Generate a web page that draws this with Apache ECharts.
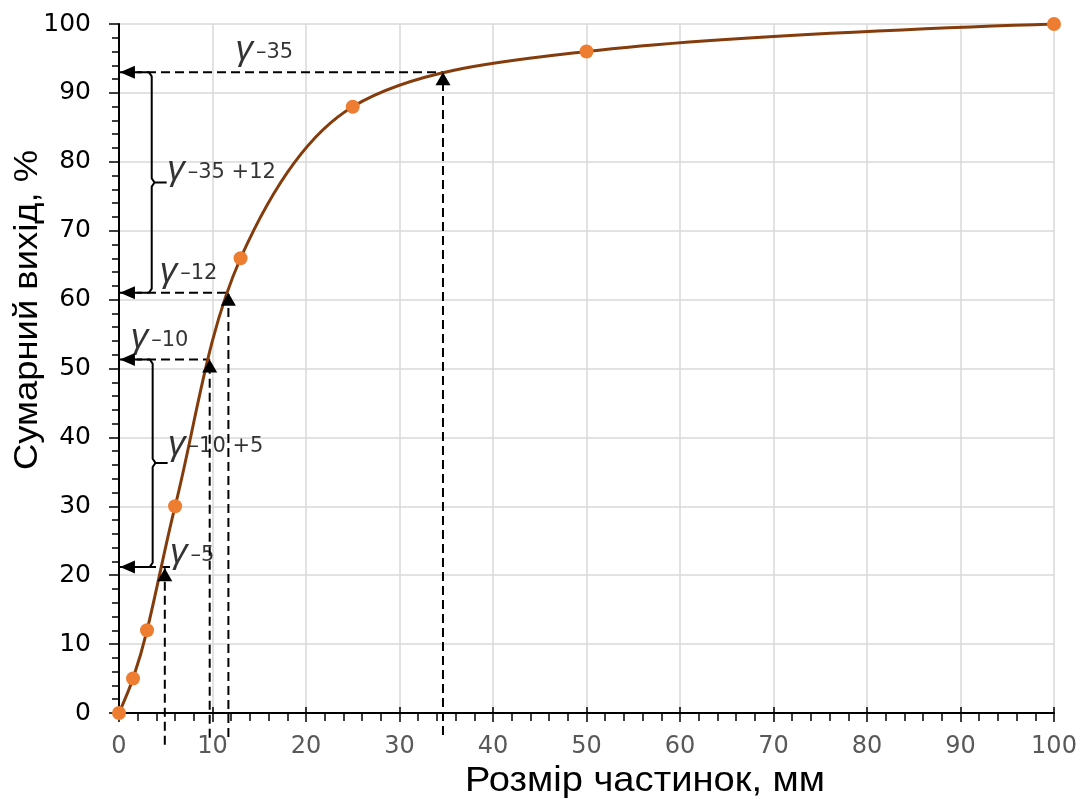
<!DOCTYPE html>
<html><head><meta charset="utf-8">
<script src="https://cdn.jsdelivr.net/npm/echarts@6/dist/echarts.min.js"></script>
<style>html,body{margin:0;padding:0;background:#fff}#c{width:1083px;height:799px}</style>
</head><body><div id="c"></div>
<script>
// ---- data ----
const sizes = [0, 1.5, 3, 6, 13, 25, 50, 100];          // Розмір частинок, мм
const cumYield = [0, 5, 12, 30, 66, 88, 96, 100];        // Сумарний вихід, %
const xAxisRange = [0, 100];
const yAxisRange = [0, 100];
const axisStep = 10;

// reading guides (data units)
const guideX = [4.9, 9.7, 11.7, 34.65];        // vertical guides
const guideTipY = [21.0, 51.3, 61, 93];        // tip of upward arrows
const guideLevelY = [21.2, 51.3, 61, 93];      // horizontal guides
const guideBottomY = [-4.6, -3.6, -3.5, -3.2]; // vertical guides start below axis
const guideRightX = [6.0, 9.7, 11.7, 34.65];   // right end of horizontal guides
const arrowLeftX = 0.1;

// curly braces
const braceUpper = [[1.9,93],[3.2,93],[3.5,92.4],[3.5,77.6],[3.8,77],[5.1,77],[3.8,77],[3.5,76.4],[3.5,61.6],[3.2,61],[1.9,61]];
const braceLower = [[1.9,51.3],[3.3,51.3],[3.6,50.7],[3.6,36.9],[3.9,36.3],[5.2,36.3],[3.9,36.3],[3.6,35.7],[3.6,21.8],[3.3,21.2],[1.9,21.2]];

// gamma labels
const labelSubs = ['–35', '–35 +12', '–12', '–10', '–10 +5', '–5'];
const labelX = [12.4, 5.1, 4.3, 1.2, 5.2, 5.4];
const labelY = [96.2, 78.8, 64.0, 54.4, 38.9, 23.2];

const xTitle = 'Розмір частинок, мм';
const yTitle = 'Сумарний вихід, %';

// ---- chart ----
const FONT = "'Liberation Sans', Arial, sans-serif";
const WIDE = "'DejaVu Sans', sans-serif";
const chart = echarts.init(document.getElementById('c'));
const dash = {color:'#000', width:2, type:[9,5]};
const series = [];
guideX.forEach((x,i)=>{
  series.push({type:'line', data:[[x,guideBottomY[i]],[x,guideTipY[i]]], symbol:'none', clip:false,
    lineStyle:dash, silent:true, z:2});
  series.push({type:'line', data:[[0,guideLevelY[i]],[guideRightX[i],guideLevelY[i]]], symbol:'none', clip:false,
    lineStyle:dash, silent:true, z:2});
});
series.push({type:'line', data:braceUpper, symbol:'none', lineStyle:{color:'#000',width:2}, clip:false, z:3});
series.push({type:'line', data:braceLower, symbol:'none', lineStyle:{color:'#000',width:2}, clip:false, z:3});
series.push({type:'line', data:sizes.map((x,i)=>[x,cumYield[i]]), smooth:0.33,
  lineStyle:{color:'#843C0C', width:3}, symbol:'circle', symbolSize:14, showSymbol:true,
  itemStyle:{color:'#ED7D31'}, z:5});
series.push({type:'scatter', data:guideX.map((x,i)=>[x,guideTipY[i]]), symbol:'triangle',
  symbolSize:[15,13], symbolOffset:[0,6.5], itemStyle:{color:'#000', opacity:1}, clip:false, z:6});
series.push({type:'scatter', data:guideLevelY.map(y=>[arrowLeftX,y]), symbol:'triangle',
  symbolSize:[13,15], symbolRotate:90, symbolOffset:[7.5,0], itemStyle:{color:'#000', opacity:1}, clip:false, z:6});
series.push({type:'scatter', data:labelX.map((x,i)=>[x,labelY[i]]), symbolSize:1,
  itemStyle:{color:'rgba(0,0,0,0)'}, clip:false, z:7,
  label:{show:true, position:'right', distance:0,
    formatter:(p)=>'{g|γ}{s|'+labelSubs[p.dataIndex]+'}',
    rich:{g:{fontFamily:FONT, fontStyle:'italic', fontSize:35, color:'#000', verticalAlign:'bottom'},
          s:{fontFamily:WIDE, fontSize:21, color:'#000', verticalAlign:'bottom', padding:[0,0,5,3]}}}});

chart.setOption({
  animation:false,
  backgroundColor:'#fff',
  grid:{left:119, right:29, top:24, bottom:86, containLabel:false, outerBoundsMode:'none'},
  xAxis:[{type:'value', min:xAxisRange[0], max:xAxisRange[1], interval:axisStep,
    axisLine:{show:true, lineStyle:{color:'#000', width:2}},
    axisTick:{show:true, length:9, lineStyle:{color:'#000', width:1.5}},
    minorTick:{show:true, splitNumber:5, length:8, lineStyle:{color:'#000', width:1.5}},
    splitLine:{show:true, lineStyle:{color:'#d9d9d9', width:1.5}},
    axisLabel:{color:'#595959', fontSize:24, fontFamily:WIDE, margin:22}},
   {type:'value', position:'bottom', min:xAxisRange[0], max:xAxisRange[1], interval:axisStep,
    axisLine:{show:false}, axisLabel:{show:false}, splitLine:{show:false},
    axisTick:{show:true, inside:true, length:6, lineStyle:{color:'#000', width:1.5}}}],
  yAxis:{type:'value', min:yAxisRange[0], max:yAxisRange[1], interval:axisStep,
    axisLine:{show:true, lineStyle:{color:'#000', width:2}},
    axisTick:{show:true, length:10, lineStyle:{color:'#000', width:1.5}},
    minorTick:{show:true, splitNumber:5, length:7, lineStyle:{color:'#000', width:1.5}},
    splitLine:{show:true, lineStyle:{color:'#d9d9d9', width:1.5}},
    axisLabel:{color:'#000', fontSize:25, fontFamily:WIDE, margin:28}},
  series:series,
  graphic:[
    {type:'text', x:645, y:781, scaleX:1.09, style:{text:xTitle, font:'35px '+FONT, fill:'#000', textAlign:'center', textVerticalAlign:'middle'}},
    {type:'text', x:28, y:310, rotation:Math.PI/2, scaleX:1.07, style:{text:yTitle, font:'34px '+FONT, fill:'#000', textAlign:'center', textVerticalAlign:'middle'}}
  ]
});
</script></body></html>
